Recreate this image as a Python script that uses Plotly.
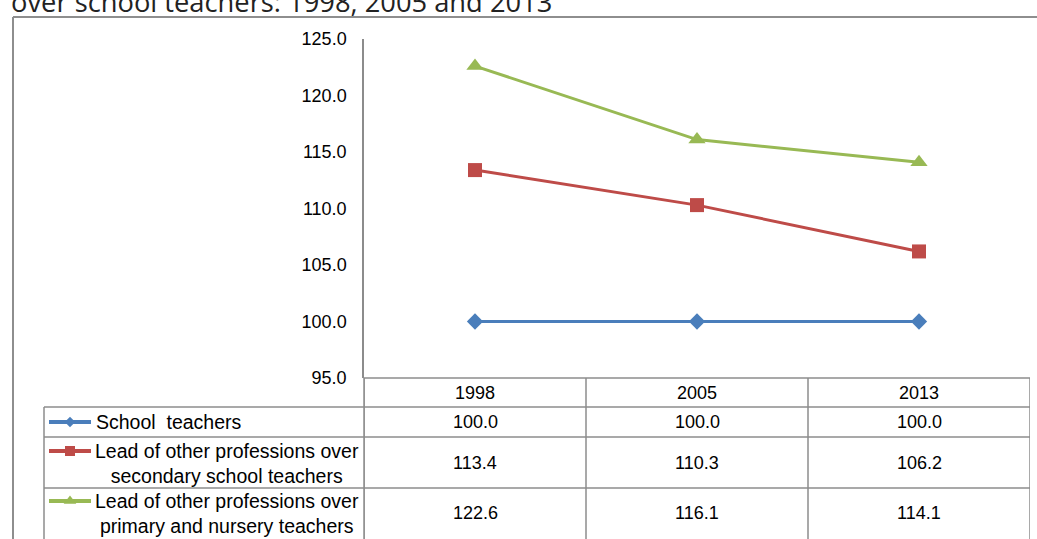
import plotly.graph_objects as go

W, H = 1037, 539

years = ["1998", "2005", "2013"]
series_names = [
    "School  teachers",
    "Lead of other professions over<br>secondary school teachers",
    "Lead of other professions over<br>primary and nursery teachers",
]
school_teachers = [100.0, 100.0, 100.0]
lead_secondary = [113.4, 110.3, 106.2]
lead_primary = [122.6, 116.1, 114.1]
series_values = [school_teachers, lead_secondary, lead_primary]

colors = ["#4A7EBB", "#BE4B48", "#98B954"]
symbols = ["diamond", "square", "triangle-up"]
marker_sizes = [12.5, 14, 15]
key_sizes = [8, 10, 11]

title_text = "over school teachers: 1998, 2005 and 2013"
FONT = "Liberation Sans, Arial, sans-serif"
GRID = "#8C8C8C"


def px(x):
    return x / W


def py(y):
    return 1 - y / H


fig = go.Figure()

for name, vals, c, s, ms in zip(series_names, series_values, colors, symbols, marker_sizes):
    fig.add_trace(go.Scatter(
        x=list(range(len(years))), y=vals, mode="lines+markers",
        name=name.replace("<br>", " "),
        line=dict(color=c, width=3),
        marker=dict(symbol=s, size=ms, color=c, line=dict(width=0)),
        showlegend=False, xaxis="x", yaxis="y",
    ))

# data-table geometry (pixel rows)
table_left = 44
plot_left, plot_right = 364, 1030
axis_bottom = 378
row_lines = [407, 437, 488]
row_centers = [422, 463, 513]
key_rows = [422, 451, 501]

# legend keys drawn on a full-page pixel axis
for c, s, ks, ky in zip(colors, symbols, key_sizes, key_rows):
    fig.add_trace(go.Scatter(
        x=[49, 91], y=[ky, ky], mode="lines", line=dict(color=c, width=4),
        showlegend=False, hoverinfo="skip", xaxis="x2", yaxis="y2",
    ))
    fig.add_trace(go.Scatter(
        x=[70], y=[ky], mode="markers",
        marker=dict(symbol=s, size=ks, color=c, line=dict(width=0)),
        showlegend=False, hoverinfo="skip", xaxis="x2", yaxis="y2",
    ))

shapes = []
line_style = dict(color=GRID, width=1.5)
# outer frame
shapes.append(dict(type="line", xref="paper", yref="paper",
                   x0=px(13), x1=px(1060), y0=py(17), y1=py(17),
                   line=dict(color="#8E8E8E", width=2)))
shapes.append(dict(type="line", xref="paper", yref="paper",
                   x0=px(13), x1=px(13), y0=py(17), y1=py(560),
                   line=dict(color="#8E8E8E", width=2)))
# horizontal table rules
for ry in row_lines:
    shapes.append(dict(type="line", xref="paper", yref="paper",
                       x0=px(table_left), x1=px(plot_right), y0=py(ry), y1=py(ry),
                       line=line_style))
# left edge of table
shapes.append(dict(type="line", xref="paper", yref="paper",
                   x0=px(table_left), x1=px(table_left), y0=py(row_lines[0]), y1=py(560),
                   line=line_style))
# category boundaries through the table
for xb in [-0.5, 0.5, 1.5, 2.5]:
    shapes.append(dict(type="line", xref="x", yref="paper",
                       x0=xb, x1=xb, y0=py(axis_bottom), y1=py(560),
                       line=line_style))
# x axis baseline across the plot width
shapes.append(dict(type="line", xref="paper", yref="paper",
                   x0=px(plot_left), x1=px(plot_right), y0=py(axis_bottom), y1=py(axis_bottom),
                   line=line_style))

annotations = []
annotations.append(dict(
    text=title_text, xref="paper", yref="paper", x=px(9), y=py(22),
    xanchor="left", yanchor="bottom", showarrow=False,
    font=dict(family="Open Sans, sans-serif", size=27.3, color="#222222"),
))
for i, yr in enumerate(years):
    annotations.append(dict(
        text=yr, xref="x", yref="paper", x=i, y=py(393),
        xanchor="center", yanchor="middle", showarrow=False,
        font=dict(family=FONT, size=18, color="#000000"),
    ))
for vals, cy in zip(series_values, row_centers):
    for i, v in enumerate(vals):
        annotations.append(dict(
            text=f"{v:.1f}", xref="x", yref="paper", x=i, y=py(cy),
            xanchor="center", yanchor="middle", showarrow=False,
            font=dict(family=FONT, size=18, color="#000000"),
        ))
# series labels in the table's first column
annotations.append(dict(
    text=series_names[0], xref="paper", yref="paper", x=px(94), y=py(key_rows[0]),
    xanchor="left", yanchor="middle", showarrow=False, align="left",
    font=dict(family=FONT, size=19.5, color="#000000"),
))
for name, cy in zip(series_names[1:], row_centers[1:]):
    annotations.append(dict(
        text=name, xref="paper", yref="paper", x=px(227), y=py(cy),
        xanchor="center", yanchor="middle", showarrow=False, align="center",
        font=dict(family=FONT, size=19.5, color="#000000"),
    ))

fig.update_layout(
    width=W, height=H,
    margin=dict(l=0, r=0, t=0, b=0, autoexpand=False),
    paper_bgcolor="white", plot_bgcolor="rgba(0,0,0,0)",
    showlegend=False,
    xaxis=dict(
        domain=[px(plot_left), px(plot_right)], range=[-0.5, 2.5],
        showticklabels=False, showgrid=False, zeroline=False,
        showline=False, fixedrange=True, anchor="y",
    ),
    yaxis=dict(
        domain=[py(axis_bottom), py(39)], range=[95, 125],
        tickvals=[95, 100, 105, 110, 115, 120, 125], tickformat=".1f",
        showgrid=False, zeroline=False, showline=True, linecolor=GRID, linewidth=1.5,
        ticks="", ticklabelstandoff=12, automargin=False,
        tickfont=dict(family=FONT, size=18, color="#000000"),
        fixedrange=True, anchor="x",
    ),
    xaxis2=dict(domain=[0, 1], range=[0, W], visible=False, anchor="y2", fixedrange=True),
    yaxis2=dict(domain=[0, 1], range=[H, 0], visible=False, anchor="x2", fixedrange=True),
    shapes=shapes,
    annotations=annotations,
)

# y axis continues down through the table
fig.add_shape(type="line", xref="paper", yref="paper",
              x0=px(plot_left), x1=px(plot_left), y0=py(axis_bottom), y1=py(560),
              line=line_style)

fig.write_html("out.html")
